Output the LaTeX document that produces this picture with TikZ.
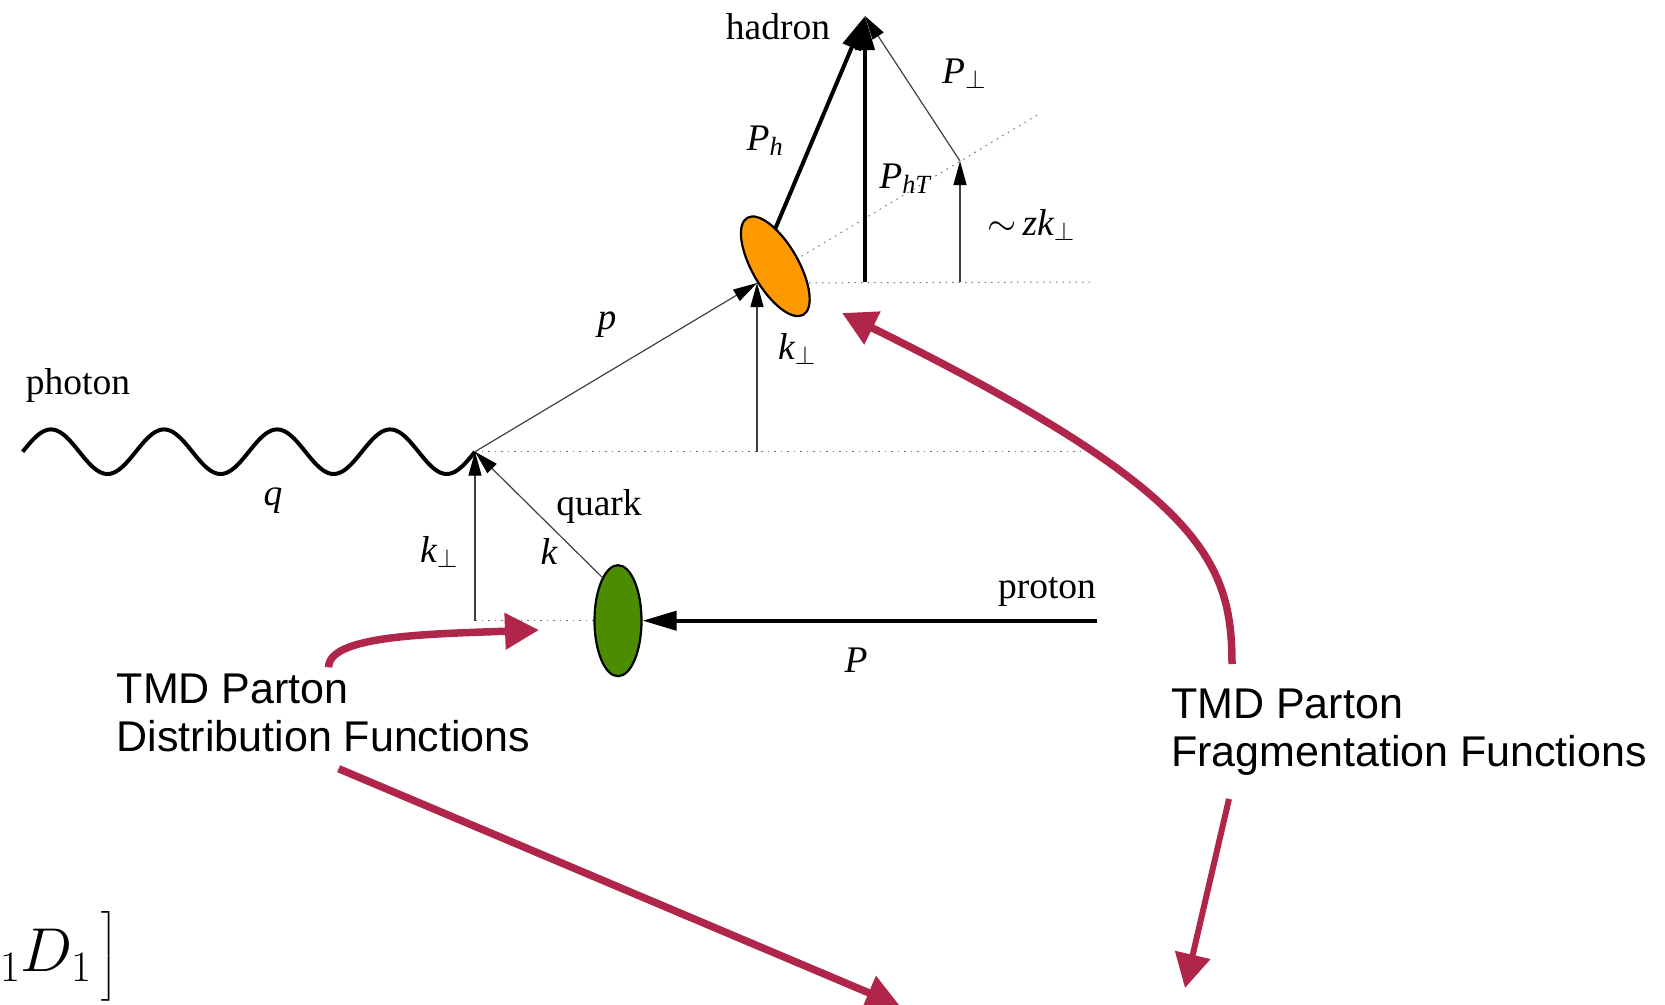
\RequirePackage{fix-cm}
\documentclass[tikz,border=0pt]{standalone}
\usepackage{amsmath}
\usepackage[no-math]{fontspec}
\setmainfont{Liberation Serif}
\newfontfamily\helv{Liberation Sans}
\usetikzlibrary{arrows.meta, shapes.geometric}

\definecolor{tmdred}{RGB}{176,38,74}
\definecolor{fragorange}{RGB}{255,153,0}
\definecolor{distgreen}{RGB}{76,140,0}

\begin{document}
\begin{tikzpicture}[
  x=1pt, y=-1pt,
  every node/.style={font=\fontsize{37.5}{42}\selectfont, inner sep=0pt},
  tag/.style={anchor=base},
  note/.style={font=\helv\fontsize{43}{48}\selectfont, align=left, anchor=north west},
  fine/.style={-{Triangle[length=24pt, width=13pt, color=black]}, line width=1.2pt, black!75},
  heavy/.style={-{Triangle[length=34pt, width=19pt]}, line width=4pt},
  guide/.style={black!55, line width=1pt, dash pattern=on 1.5pt off 5pt},
  pointer/.style={-{Triangle[length=34pt, width=35pt]}, line width=7.5pt, tmdred},
  blob/.style={ellipse, draw=black, line width=2.2pt, inner sep=0pt},
  photon/.style={line width=4pt, line join=round}
]
\useasboundingbox (0,0) rectangle (1665,1004);
\clip (0,0) rectangle (1665,1004);

% Kinematic points
\coordinate (qstart) at (22.7,451.7);
\coordinate (vtx) at (475,451.7);
\coordinate (kbase) at (475,620.7);
\coordinate (lowmid) at (757,451.7);
\coordinate (lowend) at (1094,451.7);
\coordinate (pin) at (757,283);
\coordinate (pext) at (1040,113.4);
\coordinate (kink) at (960,161);
\coordinate (zkbase) at (960,282);
\coordinate (phtbase) at (865,282);
\coordinate (upend) at (1094,282);
\coordinate (phbase) at (770.5,240);
\coordinate (hadtip) at (865,16);
\coordinate (pstart) at (1097,620.7);

% Guide lines (behind the blobs)
\draw[guide] (vtx) -- (lowend);
\draw[guide] (kbase) -- (618,620.7);
\draw[guide] (pin) -- (upend);
\draw[guide] (pin) -- (pext);
\draw[heavy] (phbase) -- (hadtip);

% Blobs
\node[blob, fill=fragorange, minimum width=112pt, minimum height=46pt, rotate=-60] (frag) at (775.3,266.3) {};
\node[blob, fill=distgreen, minimum width=47pt, minimum height=111pt] (dist) at (618,620.7) {};

% Momenta
\draw[photon, shift={(qstart)}] plot[domain=0:4, samples=161, smooth] ({113.075*\x}, {-22.3*sin(360*\x)});
\draw[fine] (kbase) -- (vtx);
\draw[fine] (dist.110) -- (vtx);
\draw[fine] (vtx) -- (pin);
\draw[fine] (lowmid) -- (pin);
\draw[heavy] (pstart) -- (dist);
\draw[heavy] (phtbase) -- (hadtip);
\draw[fine] (zkbase) -- (kink);
\draw[fine] (kink) -- (hadtip);

% Labels
\node[tag] (hadronlbl) at (778,39.3) {hadron};
\node[tag] (photonlbl) at (78,394) {photon};
\node[tag] (quarklbl) at (599,515) {quark};
\node[tag] (protonlbl) at (1047,598) {proton};
\node[tag] (qlbl) at (273,505) {$\textit{q}$};
\node[tag] (plbl) at (607,329) {$\textit{p}$};
\node[tag] (klbl) at (549,564) {$\textit{k}$};
\node[tag] (kperpa) at (439,562) {$\textit{k}_\perp$};
\node[tag] (kperpb) at (797,359) {$\textit{k}_\perp$};
\node[tag] (Plbl) at (856,672) {$\textit{P}$};
\node[tag] (Phlbl) at (765,150) {$\textit{P}_{\textit{h}}$};
\node[tag] (PhTlbl) at (905,188) {$\textit{P}_{\textit{hT}}$};
\node[tag] (Pperplbl) at (964,83) {$\textit{P}_\perp$};
\node[tag] (zklbl) at (1031,235) {${\sim}\,\textit{zk}_\perp$};

% Annotations
\node[note] (pdftext) at (116.7,673.3) {TMD Parton\\Distribution Functions};
\node[note] (fftext) at (1171,689) {TMD Parton\\Fragmentation Functions};
\node[anchor=base west, font=\fontsize{62}{75}\selectfont] (formula) at (0,971.7) {\delimitershortfall=-1pt ${}_1D_1\,\big]$};

\coordinate (pdfhit) at (539,630);
\coordinate (ffhit) at (842,313);
\coordinate (pdfdown) at (900,1006);
\coordinate (ffdown) at (1185,988);

\draw[pointer] ([xshift=5pt, yshift=6pt]pdftext.north) .. controls +(0,-32) and +(-110,4) .. (pdfhit);
\draw[pointer] ([xshift=15pt, yshift=-17pt]pdftext.south) -- (pdfdown);
\draw[pointer] ([xshift=61pt, yshift=25pt]fftext.north west) .. controls +(0,-104) and +(358,177) .. (ffhit);
\draw[pointer, line width=6pt] ([xshift=58pt, yshift=-23pt]fftext.south west) -- (ffdown);

\end{tikzpicture}
\end{document}
